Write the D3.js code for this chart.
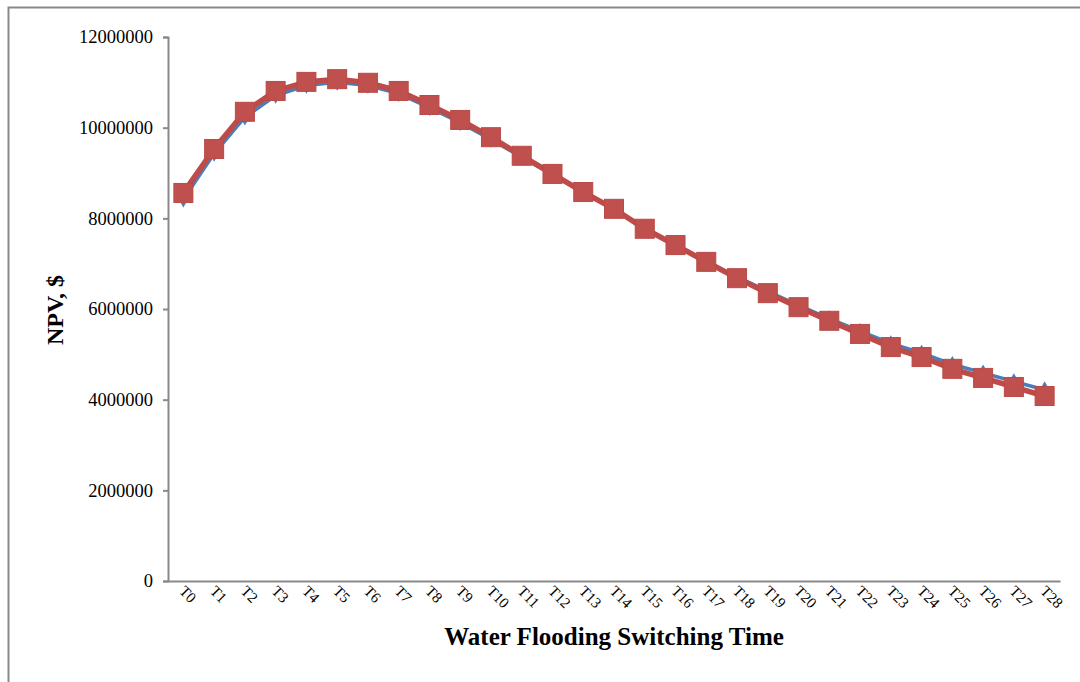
<!DOCTYPE html>
<html>
<head>
<meta charset="utf-8">
<script src="https://cdn.jsdelivr.net/npm/d3@7"></script>
<style>
  body { margin: 0; background: #fff; }
  text { font-family: "Liberation Serif", "Times New Roman", serif; }
</style>
</head>
<body>
<div id="chart"></div>
<script>
// chart data
const categories = d3.range(29).map(i => "T" + i);
const npvBlue = [8420000, 9430000, 10230000, 10710000, 10930000, 11000000, 10930000, 10750000, 10440000, 10110000,
    9740000, 9350000, 8960000, 8580000, 8210000, 7780000, 7420000, 7060000, 6710000, 6390000,
    6080000, 5790000, 5510000, 5240000, 5030000, 4780000, 4590000, 4400000, 4220000];
const npvRed = [8560000, 9530000, 10350000, 10810000, 11010000, 11070000, 10990000, 10810000, 10500000, 10170000,
    9790000, 9380000, 8980000, 8580000, 8210000, 7770000, 7410000, 7040000, 6680000, 6350000,
    6040000, 5740000, 5450000, 5160000, 4940000, 4680000, 4480000, 4280000, 4080000];
const yTicks = [0, 2000000, 4000000, 6000000, 8000000, 10000000, 12000000];

const width = 1080, height = 682;
const margin = {left: 168, right: 20, top: 37, bottom: 101};

let svg = d3.select("#chart")
    .append("svg")
    .attr("width", width)
    .attr("height", height);

// outer frame (right and bottom edges fall off the page)
svg.append("rect")
    .attr("x", 8.5).attr("y", 7.5)
    .attr("width", width + 20).attr("height", height + 20)
    .attr("fill", "none")
    .attr("stroke", "#898989")
    .attr("stroke-width", 2);

let x = d3.scaleBand()
    .domain(categories)
    .range([margin.left, width - margin.right]);

let y = d3.scaleLinear()
    .domain([0, 12000000])
    .range([height - margin.bottom, margin.top]);

// y axis
let yAxis = svg.append("g")
    .attr("transform", "translate(" + margin.left + ",0)")
    .call(d3.axisLeft(y).tickValues(yTicks).tickFormat(d3.format("d")).tickSize(5).tickPadding(10));
yAxis.attr("font-family", null).attr("font-size", null);
yAxis.selectAll("text").style("font-size", "18.5px").attr("fill", "#000");

// x axis
let xAxis = svg.append("g")
    .attr("transform", "translate(0," + (height - margin.bottom) + ")")
    .call(d3.axisBottom(x).tickSize(0).tickPadding(0));
xAxis.attr("font-family", null).attr("font-size", null);
xAxis.selectAll("text")
    .style("font-size", "15px")
    .attr("fill", "#000")
    .attr("text-anchor", "start")
    .attr("dy", 0)
    .attr("transform", "translate(-5,11) rotate(45)");

svg.selectAll(".domain, .tick line")
    .attr("stroke", "#898989")
    .attr("stroke-width", 2);

let cx = d => x(d) + x.bandwidth() / 2;

// blue series
let line = d3.line().x((d, i) => cx(categories[i])).y(d => y(d));
svg.append("path")
    .datum(npvBlue)
    .attr("d", line)
    .attr("fill", "none")
    .attr("stroke", "#4a7ebb")
    .attr("stroke-width", 3.5);
svg.selectAll(".diamond")
    .data(npvBlue)
    .enter().append("path")
    .attr("class", "diamond")
    .attr("d", d3.symbol().type(d3.symbolDiamond).size(80))
    .attr("transform", (d, i) => "translate(" + cx(categories[i]) + "," + y(d) + ")")
    .attr("fill", "#4a7ebb");

// red series
svg.append("path")
    .datum(npvRed)
    .attr("d", line)
    .attr("fill", "none")
    .attr("stroke", "#be4b48")
    .attr("stroke-width", 5.5);
svg.selectAll(".square")
    .data(npvRed)
    .enter().append("rect")
    .attr("class", "square")
    .attr("x", (d, i) => cx(categories[i]) - 9.5)
    .attr("y", d => y(d) - 9.5)
    .attr("width", 19).attr("height", 19)
    .attr("fill", "#c0504d")
    .attr("stroke", "#b94a47")
    .attr("stroke-width", 1);

// axis titles
svg.append("text")
    .attr("x", (margin.left + width - margin.right) / 2)
    .attr("y", 645)
    .attr("text-anchor", "middle")
    .style("font-size", "25px")
    .attr("font-weight", "bold")
    .text("Water Flooding Switching Time");

svg.append("text")
    .attr("transform", "translate(63,310) rotate(-90)")
    .attr("text-anchor", "middle")
    .style("font-size", "24px")
    .attr("font-weight", "bold")
    .text("NPV, $");
</script>
</body>
</html>
